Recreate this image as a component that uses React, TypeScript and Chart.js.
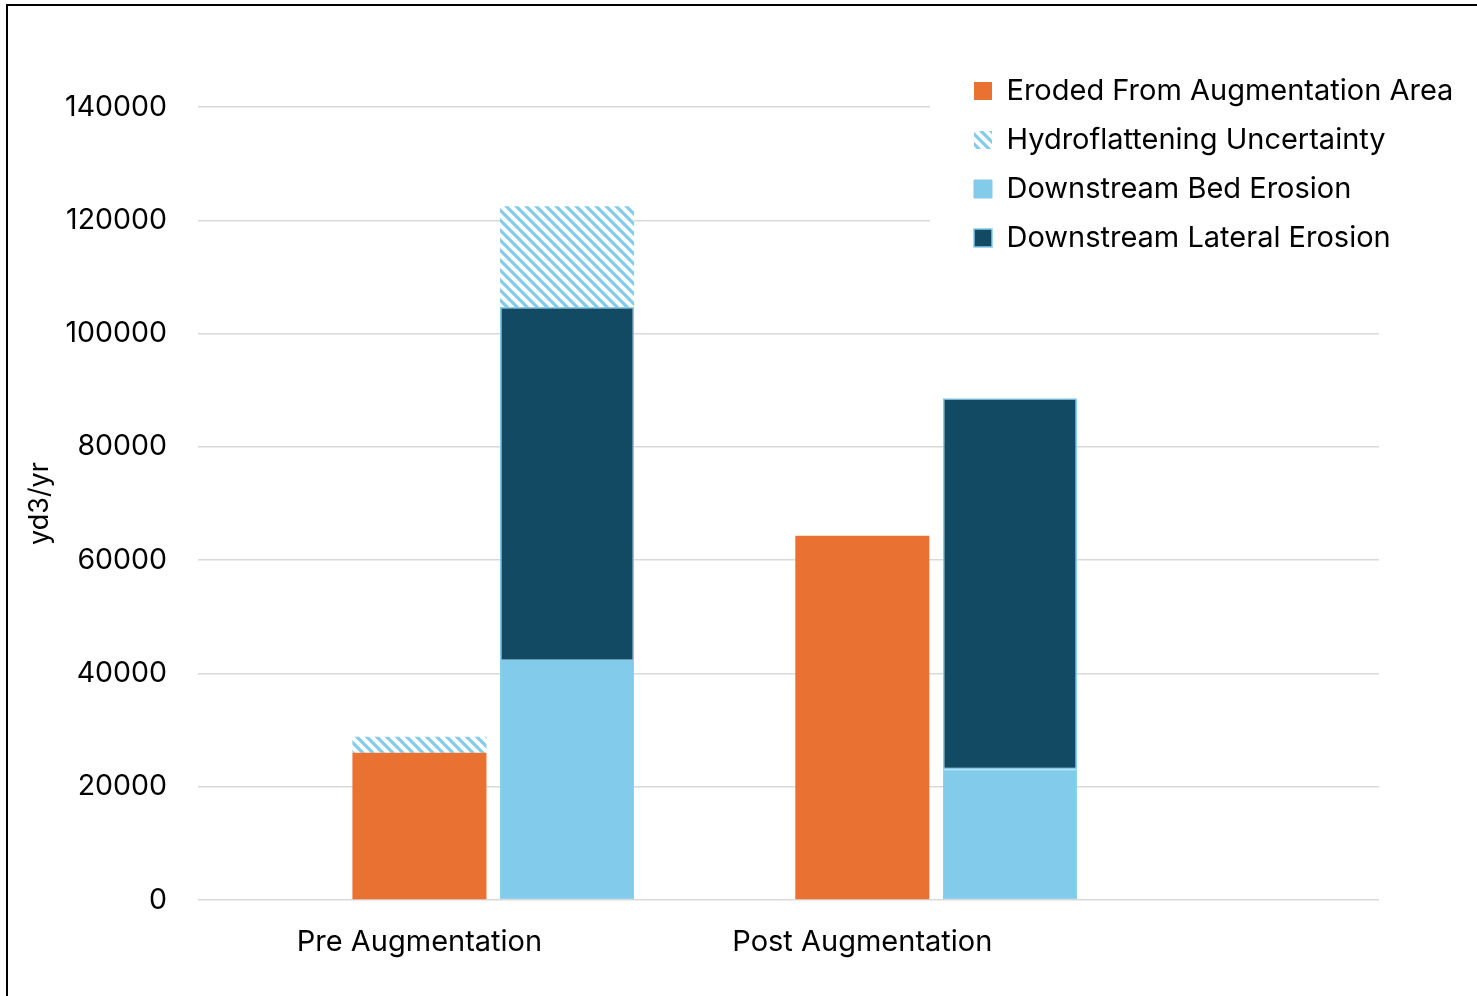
import React, { useEffect, useRef } from "react";
import { Chart, registerables } from "chart.js";

Chart.register(...registerables);

// ---- data ----
const groups = ["Pre Augmentation", "Post Augmentation"];
const erodedFromAugmentation = [26000, 64300];
const uncertaintyOnEroded = [2800, null];
const downstreamBed = [42200, 23100];
const downstreamLateral = [62500, 65500];
const uncertaintyOnDownstream = [17800, null];
const yTicks = [0, 20000, 40000, 60000, 80000, 100000, 120000, 140000];

const ORANGE = "#E97132";
const LIGHT_BLUE = "#83CBEB";
const NAVY = "#124A63";
const FONT = "Inter";

function makeHatch(): CanvasPattern | string {
  const c = document.createElement("canvas");
  c.width = 10;
  c.height = 10;
  const g = c.getContext("2d");
  if (!g) return LIGHT_BLUE;
  g.fillStyle = "#ffffff";
  g.fillRect(0, 0, 10, 10);
  g.strokeStyle = LIGHT_BLUE;
  g.lineWidth = 3.2;
  g.beginPath();
  for (const off of [-10, 0, 10]) {
    g.moveTo(off - 5, -5);
    g.lineTo(off + 15, 15);
  }
  g.stroke();
  return g.createPattern(c, "repeat") || LIGHT_BLUE;
}

export default function App() {
  const ref = useRef<HTMLCanvasElement | null>(null);

  useEffect(() => {
    if (!ref.current) return;
    const hatch = makeHatch();

    // slot layout: blank, group0 eroded, group0 downstream, blank, group1 eroded, group1 downstream, blank, blank
    const slotsPerGroup = 3;
    const nSlots = 8;
    const labels: string[] = new Array(nSlots).fill("");
    const eroded: (number | null)[] = new Array(nSlots).fill(null);
    const bed: (number | null)[] = new Array(nSlots).fill(null);
    const lateral: (number | null)[] = new Array(nSlots).fill(null);
    const hydro: (number | null)[] = new Array(nSlots).fill(null);
    groups.forEach((g, i) => {
      const a = 1 + i * slotsPerGroup;
      const b = a + 1;
      labels[a] = g;
      eroded[a] = erodedFromAugmentation[i];
      hydro[a] = uncertaintyOnEroded[i];
      bed[b] = downstreamBed[i];
      lateral[b] = downstreamLateral[i];
      hydro[b] = uncertaintyOnDownstream[i];
    });

    const legendRank = [0, 2, 3, 1];

    const legendPlacer = {
      id: "legendPlacer",
      beforeLayout(chart: any) {
        const lg = chart.legend;
        if (!lg || lg.__patched) return;
        lg.__patched = true;
        lg._layers = () => [
          {
            z: 0,
            draw: (area: any) => {
              const ctx = chart.ctx;
              ctx.save();
              ctx.fillStyle = "#ffffff";
              ctx.fillRect(930, 50, 560, 215);
              ctx.restore();
              lg.draw(area);
            },
          },
        ];
      },
      afterLayout(chart: any) {
        const lg = chart.legend;
        if (!lg) return;
        const w = lg.width;
        const h = lg.height;
        lg.left = 954;
        lg.top = 56.5;
        lg.right = lg.left + w;
        lg.bottom = lg.top + h;
      },
    };

    const chart = new Chart(ref.current, {
      type: "bar",
      data: {
        labels,
        datasets: [
          {
            label: "Eroded From Augmentation Area",
            data: eroded,
            backgroundColor: ORANGE,
            borderWidth: 0,
          },
          {
            label: "Downstream Bed Erosion",
            data: bed,
            backgroundColor: LIGHT_BLUE,
            borderColor: LIGHT_BLUE,
            borderWidth: 1,
            borderSkipped: false,
          },
          {
            label: "Downstream Lateral Erosion",
            data: lateral,
            backgroundColor: NAVY,
            borderColor: LIGHT_BLUE,
            borderWidth: 1.5,
            borderSkipped: false,
          },
          {
            label: "Hydroflattening Uncertainty",
            data: hydro,
            backgroundColor: hatch as any,
            borderWidth: 0,
          },
        ],
      },
      options: {
        responsive: false,
        animation: false,
        layout: { padding: { left: 0, top: 107, right: 98, bottom: 0 } },
        datasets: {
          bar: { categoryPercentage: 1, barPercentage: 0.908 },
        },
        plugins: {
          tooltip: { enabled: false },
          legend: {
            position: "chartArea" as any,
            align: "start",
            labels: {
              boxWidth: 18,
              boxHeight: 18,
              padding: 20,
              color: "#000000",
              font: { family: FONT, size: 29 },
              sort: (a: any, b: any) => legendRank[a.datasetIndex] - legendRank[b.datasetIndex],
            },
          },
        },
        scales: {
          x: {
            stacked: true,
            grid: { display: false },
            border: { display: false },
            ticks: {
              autoSkip: false,
              maxRotation: 0,
              minRotation: 0,
              padding: 17,
              color: "#000000",
              font: { family: FONT, size: 29 },
            },
            afterFit: (s: any) => {
              s.height = 96;
            },
          },
          y: {
            stacked: true,
            min: 0,
            max: 140000,
            afterBuildTicks: (s: any) => {
              s.ticks = yTicks.map((v) => ({ value: v }));
            },
            grid: { color: "#D9D9D9", lineWidth: 1.5, drawTicks: false },
            border: { display: false },
            ticks: {
              padding: 31,
              color: "#000000",
              font: { family: FONT, size: 28.5 },
              callback: (v: any) => String(v),
            },
            title: {
              display: true,
              text: "yd3/yr",
              color: "#000000",
              font: { family: FONT, size: 27 },
              padding: { top: 24, bottom: 0 },
            },
            afterFit: (s: any) => {
              s.width = 198;
            },
          },
        },
      },
      plugins: [legendPlacer],
    });
    return () => chart.destroy();
  }, []);

  return (
    <div
      style={{
        position: "fixed",
        left: 0,
        top: 0,
        width: 1477,
        height: 996,
        overflow: "hidden",
        background: "#ffffff",
      }}
    >
      <canvas
        ref={ref}
        width={1477}
        height={996}
        style={{ position: "absolute", left: 0, top: 0, width: 1477, height: 996 }}
      />
      <div
        style={{
          position: "absolute",
          left: 6,
          top: 4,
          width: 1600,
          height: 1100,
          borderLeft: "2px solid #000",
          borderTop: "2px solid #000",
          pointerEvents: "none",
        }}
      />
    </div>
  );
}
